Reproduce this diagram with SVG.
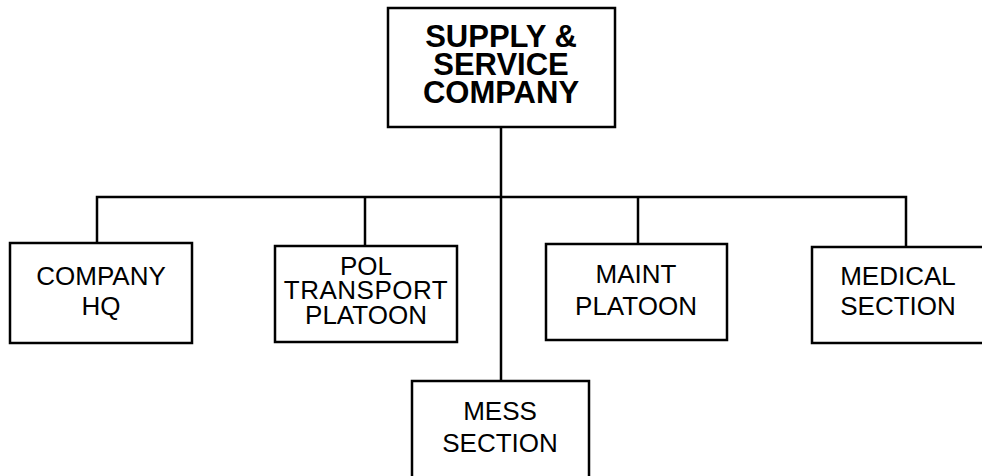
<svg xmlns="http://www.w3.org/2000/svg" width="982" height="476" viewBox="0 0 982 476">
<style>
.box{fill:#fff;stroke:#000;stroke-width:2.5}
.ln{fill:none;stroke:#000;stroke-width:2.5}
.t{font-family:"Liberation Sans",Arial,sans-serif;font-size:26px;text-anchor:middle;fill:#000}
.tb{font-family:"Liberation Sans",Arial,sans-serif;font-size:31px;font-weight:bold;text-anchor:middle;fill:#000}
</style>
<rect width="982" height="476" fill="#fff"/>
<g id="connectors">
<path class="ln" d="M501,127 V381"/>
<path class="ln" d="M97,243 V197 H906 V247"/>
<path class="ln" d="M365,197 V246"/>
<path class="ln" d="M638,197 V244"/>
</g>
<g id="supply">
<rect class="box" x="388" y="8" width="227" height="119"/>
<text class="tb" x="501" y="47">SUPPLY &amp;</text>
<text class="tb" x="501" y="75">SERVICE</text>
<text class="tb" x="501" y="103">COMPANY</text>
</g>
<g id="hq">
<rect class="box" x="10" y="243" width="182" height="100"/>
<text class="t" x="101" y="285">COMPANY</text>
<text class="t" x="101" y="315">HQ</text>
</g>
<g id="pol">
<rect class="box" x="275" y="246" width="182" height="96"/>
<text class="t" x="366" y="275">POL</text>
<text class="t" x="366" y="299" letter-spacing="0.5">TRANSPORT</text>
<text class="t" x="366" y="324">PLATOON</text>
</g>
<g id="maint">
<rect class="box" x="546" y="244" width="181" height="96"/>
<text class="t" x="636" y="283">MAINT</text>
<text class="t" x="636" y="315">PLATOON</text>
</g>
<g id="medical">
<rect class="box" x="812" y="247" width="180" height="96"/>
<text class="t" x="898" y="285">MEDICAL</text>
<text class="t" x="898" y="315">SECTION</text>
</g>
<g id="mess">
<rect class="box" x="412" y="381" width="177" height="110"/>
<text class="t" x="500" y="420">MESS</text>
<text class="t" x="500" y="452">SECTION</text>
</g>
</svg>
